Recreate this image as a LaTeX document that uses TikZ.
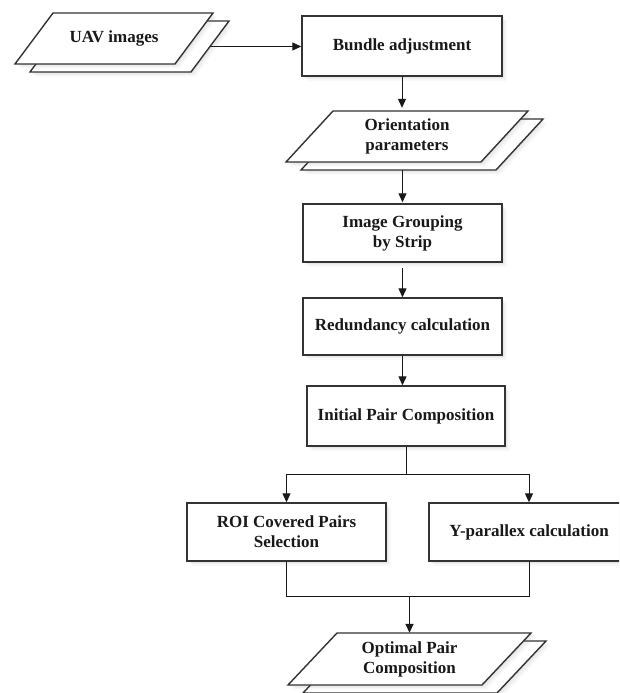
\documentclass[tikz,border=0pt]{standalone}
\usepackage{fontspec}
\setmainfont{Liberation Serif}
\usetikzlibrary{arrows.meta,shadows}
\newcommand{\plgram}[5]{% centre x, centre y, overall width, height, slant
  \draw[pshape] (#1-#3/2,#2+#4/2) -- (#1-#3/2+#5,#2-#4/2) -- (#1+#3/2,#2-#4/2)
    -- (#1+#3/2-#5,#2+#4/2) -- cycle;}
\begin{document}
\begin{tikzpicture}[x=1pt,y=-1pt,
  txt/.style={font=\bfseries\fontsize{17}{20}\selectfont, align=center, text=black!90},
  shd/.style={drop shadow={shadow xshift=1.5pt, shadow yshift=-1.5pt, opacity=0.07},
              drop shadow={shadow xshift=3pt, shadow yshift=-3pt, opacity=0.07},
              drop shadow={shadow xshift=4.5pt, shadow yshift=-4.5pt, opacity=0.05}},
  box/.style={txt, shd, rectangle, draw=black!80, line width=1.4pt, fill=white, inner sep=2pt},
  pshape/.style={shd, draw=black!80, line width=1.4pt, fill=white, line join=miter},
  ptext/.style={txt, rectangle, inner sep=0pt},
  arr/.style={-{Triangle[length=9pt,width=8pt]}, line width=1pt, black!90},
  ln/.style={line width=1pt, black!90}
]
\useasboundingbox (0,0) rectangle (619,693);
\clip (0,0) rectangle (619,693);
\fill[white] (0,0) rectangle (619,693);

% UAV images (stacked parallelograms)
\plgram{129.5}{46.5}{199}{51}{38}
\node[ptext, minimum width=161pt, minimum height=51pt] (uavb) at (129.5,46.5) {};
\plgram{114}{38.5}{198}{51}{38}
\node[ptext, minimum width=160pt, minimum height=51pt] (uav) at (114,38.5) {UAV images};

\node[box, minimum width=200pt, minimum height=60pt] (bundle) at (402,46) {Bundle adjustment};

% Orientation parameters
\plgram{422}{144.5}{242}{51}{47}
\node[ptext, minimum width=195pt, minimum height=51pt] (orib) at (422,144.5) {};
\plgram{407}{136.5}{242}{51}{47}
\node[ptext, minimum width=195pt, minimum height=51pt] (ori) at (407,136.5) {Orientation\\parameters};

\node[box, minimum width=199pt, minimum height=58pt] (grp) at (402.5,233) {Image Grouping\\by Strip};
\node[box, minimum width=199pt, minimum height=57pt] (red) at (402.5,326.5) {Redundancy calculation};
\node[box, minimum width=198pt, minimum height=60pt] (ini) at (406,416) {Initial Pair Composition};
\node[box, minimum width=199pt, minimum height=58pt] (roi) at (286.5,532) {ROI Covered Pairs\\Selection};
\node[box, minimum width=200pt, minimum height=58pt] (ypar) at (529,532) {Y-parallex calculation};

% Optimal Pair Composition
\plgram{424.5}{667}{243}{52}{49}
\plgram{409.5}{659}{243}{52}{49}
\node[ptext, minimum width=194pt, minimum height=52pt] (opt) at (409.5,659) {Optimal Pair\\Composition};

% connectors
\draw[arr] (uavb.east) -- (uavb.east -| bundle.west);
\draw[arr, shorten >=3pt] (bundle.south) -- (bundle.south |- ori.north);
\draw[arr, shorten >=1pt] (grp.north |- orib.south) -- (grp.north);
\draw[arr, shorten <=5pt] (grp.south) -- (red.north);
\draw[arr] (red.south) -- (red.south |- ini.north);
\draw[ln] (ini.south) -- ++(0,28) coordinate (split);
\draw[arr] (split) -| (roi.north);
\draw[arr] (split) -| (ypar.north);
\coordinate (my) at (0,596);
\draw[ln] (roi.south) |- (ypar.south |- my) -- (ypar.south);
\draw[arr, line width=1.6pt] (opt.north |- my) -- (opt.north);
\end{tikzpicture}
\end{document}
